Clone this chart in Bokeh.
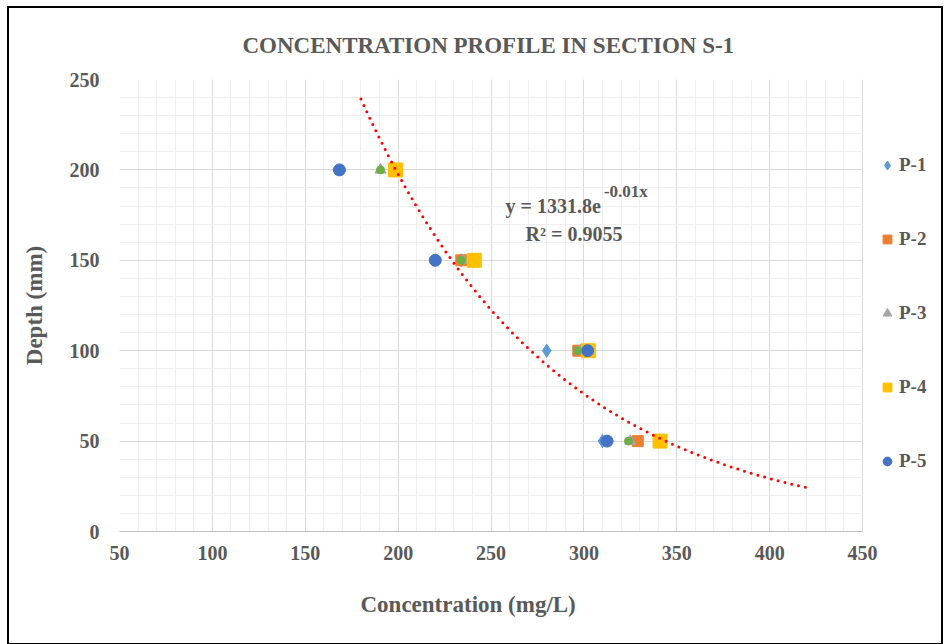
import numpy as np
from bokeh.plotting import figure
from bokeh.models import (Range1d, SingleIntervalTicker, Legend, LegendItem, Label,
                          BoxAnnotation, Title)
from bokeh.embed import file_html
from bokeh.resources import INLINE

# ---- data ----
depth = [200, 150, 100, 50]
conc_p1 = [197, 234, 280, 310]
conc_p2 = [198, 234, 297, 329]
conc_p3 = [190.5, 235, 298, 325]
conc_p4 = [198.6, 241, 302.5, 341]
conc_p5 = [168.4, 220, 302, 312.5]
conc_p6 = [190.5, 234, 296.5, 324]  # green series (not in legend)

x_axis_range = (50, 450)
y_axis_range = (0, 250)
# exponential trendline y = a * exp(b x) (a as printed, b)
trend_a, trend_b = 1331.8, -0.00954
trend_x_from, trend_x_to = 180, 421
title_text = "CONCENTRATION PROFILE IN SECTION S-1"
x_label = "Concentration (mg/L)"
y_label = "Depth (mm)"
eq_main = "y = 1331.8e"
eq_sup = "-0.01x"
eq_r2 = "R² = 0.9055"

FONT = "Liberation Serif"
TXT = "#595959"

# plot area 743 px for the axis span, plus room on the right for the legend
AXIS_W, LEGEND_W = 743, 79
x_end = x_axis_range[0] + (x_axis_range[1] - x_axis_range[0]) * (AXIS_W + LEGEND_W) / AXIS_W

p = figure(frame_width=AXIS_W + LEGEND_W, frame_height=452, output_backend="svg", toolbar_location=None,
           x_range=Range1d(x_axis_range[0], x_end), y_range=Range1d(*y_axis_range),
           min_border_left=110, min_border_right=0, min_border_top=71, min_border_bottom=100)
p.styles = {"border": "2px solid #000", "margin-left": "7px", "margin-top": "6px"}

p.title.text = title_text
p.title.align = "left"
p.title.offset = 123
p.title.text_font = FONT
p.title.text_font_size = "23px"
p.title.text_font_style = "bold"
p.title.text_color = TXT
p.title.standoff = 44

p.outline_line_color = None
p.background_fill_color = "white"

p.xaxis.ticker = SingleIntervalTicker(interval=50, num_minor_ticks=5)
p.yaxis.ticker = SingleIntervalTicker(interval=50, num_minor_ticks=5)
for ax in (p.xaxis[0], p.yaxis[0]):
    ax.major_label_text_font = FONT
    ax.major_label_text_font_size = "20px"
    ax.major_label_text_font_style = "bold"
    ax.major_label_text_color = TXT
    ax.axis_label_text_font = FONT
    ax.axis_label_text_font_size = "23px"
    ax.axis_label_text_font_style = "bold"
    ax.axis_label_text_color = TXT
    ax.major_tick_line_color = None
    ax.minor_tick_line_color = None
p.yaxis.axis_label = y_label
p.xaxis.bounds = x_axis_range
p.xaxis.axis_line_color = "#bfbfbf"
p.yaxis.axis_line_color = None
p.xaxis.major_label_standoff = 8
p.yaxis.major_label_standoff = 14
p.yaxis.axis_label_standoff = 20

# x-axis title centred under the axis span (not under the legend area)
p.add_layout(Title(text=x_label, align="left", offset=241, text_font=FONT, text_font_size="23px",
                   text_font_style="bold", text_color=TXT, standoff=54), "below")

for g in (p.xgrid[0], p.ygrid[0]):
    g.grid_line_color = "#d9d9d9"
    g.minor_grid_line_color = "#efefef"

# white mask hiding horizontal grid lines right of the axis span (legend area)
p.add_layout(BoxAnnotation(left=x_axis_range[1] + 0.4, fill_color="white", fill_alpha=1,
                           line_color=None, level="underlay"))

# ---- markers ----
r1 = p.scatter(conc_p1, depth, marker="diamond", size=13, color="#5B9BD5")
r2 = p.scatter(conc_p2, depth, marker="square", size=11, color="#ED7D31")
r3 = p.scatter(conc_p3, depth, marker="triangle", size=11, color="#A5A5A5")
r4 = p.scatter(conc_p4, depth, marker="square", size=14, color="#FFC000")
r5 = p.scatter(conc_p5, depth, marker="circle", size=12, color="#4472C4")
r6 = p.scatter(conc_p6, depth, marker="circle", size=8, color="#70AD47")

# ---- exponential trendline ----
tx = np.linspace(trend_x_from, trend_x_to, 200)
ty = trend_a * np.exp(trend_b * tx)
p.line(tx, ty, line_color="#FF0000", line_width=3, line_dash="0 7", line_cap="round")

# ---- equation labels ----
lab_kw = dict(text_font=FONT, text_font_style="bold", text_color=TXT, text_baseline="alphabetic")
p.add_layout(Label(x=257.8, y=180.3, text=eq_main, text_font_size="20px", **lab_kw))
p.add_layout(Label(x=310.8, y=188.0, text=eq_sup, text_font_size="17px", **lab_kw))
p.add_layout(Label(x=268.6, y=164.8, text=eq_r2, text_font_size="20px", **lab_kw))

# ---- legend (right of the axis span) ----
legend = Legend(items=[LegendItem(label="P-1", renderers=[r1]),
                       LegendItem(label="P-2", renderers=[r2]),
                       LegendItem(label="P-3", renderers=[r3]),
                       LegendItem(label="P-4", renderers=[r4]),
                       LegendItem(label="P-5", renderers=[r5])],
                location=(757, 59), border_line_color=None, background_fill_alpha=0,
                label_text_font=FONT, label_text_font_size="19px", label_text_font_style="bold",
                label_text_color=TXT, spacing=52, glyph_width=22, glyph_height=22,
                label_height=22, margin=0, padding=0, label_standoff=1)
p.add_layout(legend)

open("out.html", "w").write(file_html(p, INLINE))
